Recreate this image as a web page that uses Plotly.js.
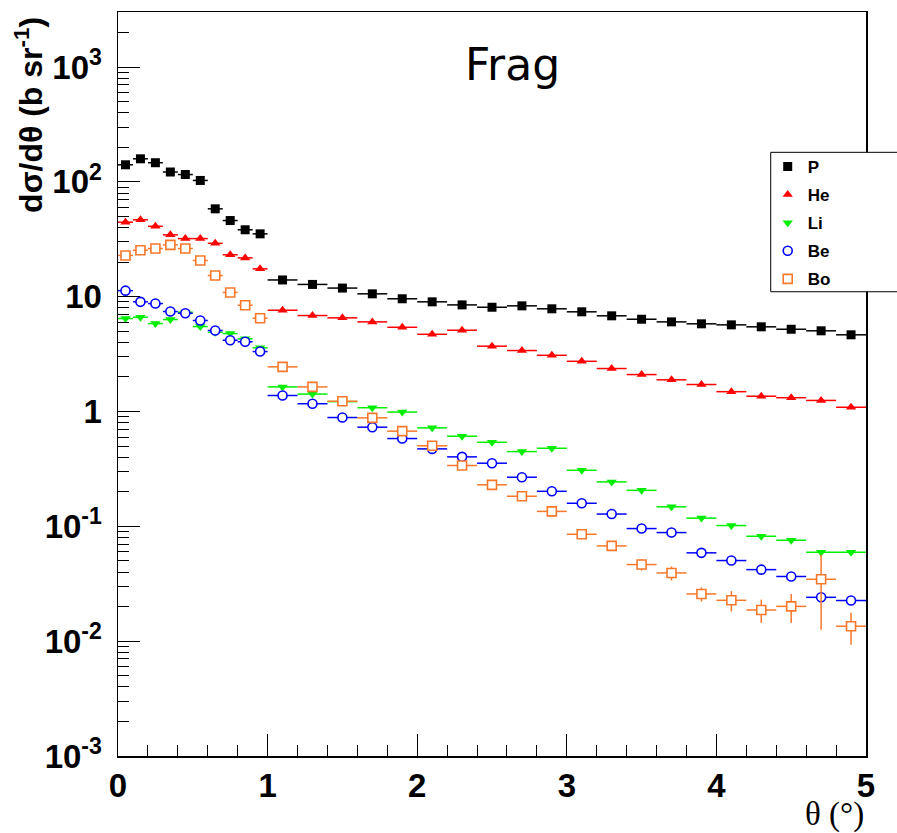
<!DOCTYPE html>
<html>
<head>
<meta charset="utf-8">
<script src="https://cdn.plot.ly/plotly-3.0.1.min.js"></script>
<style>html,body{margin:0;padding:0;background:#fff;}#chart{width:897px;height:833px;}</style>
</head>
<body>
<div id="chart"></div>
<script>
// bin centres (deg) and half widths
const theta = [0.05,0.15,0.25,0.35,0.45,0.55,0.65,0.75,0.85,0.95,
  1.1,1.3,1.5,1.7,1.9,2.1,2.3,2.5,2.7,2.9,
  3.1,3.3,3.5,3.7,3.9,4.1,4.3,4.5,4.7,4.9];
const halfBin = [0.05,0.05,0.05,0.05,0.05,0.05,0.05,0.05,0.05,0.05,
  0.1,0.1,0.1,0.1,0.1,0.1,0.1,0.1,0.1,0.1,
  0.1,0.1,0.1,0.1,0.1,0.1,0.1,0.1,0.1,0.1];

const P  = [141,159,147,122,116,103,58.3,46.1,38.3,35.3,
  14.0,12.8,11.9,10.6,9.6,9.03,8.49,8.1,8.33,7.85,
  7.39,6.82,6.37,6.04,5.81,5.69,5.47,5.21,5.05,4.66];
const He = [44.6,46.8,41.1,34.6,32.1,32.1,29.2,23.2,21.8,17.5,
  7.63,6.86,6.55,6.04,5.42,4.71,5.11,3.71,3.40,3.09,
  2.74,2.37,2.10,1.89,1.72,1.49,1.36,1.32,1.25,1.09];
const Li = [6.46,6.63,5.84,6.33,7.33,5.5,4.9,4.78,4.30,3.59,
  1.64,1.42,1.22,1.08,0.99,0.721,0.61,0.54,0.448,0.479,
  0.308,0.244,0.206,0.148,0.118,0.1017,0.082,0.0757,0.0595,0.0595];
const Be = [11.3,9.03,8.72,7.43,7.18,6.21,5.08,4.18,4.05,3.33,
  1.38,1.17,0.887,0.731,0.582,0.473,0.403,0.355,0.268,0.202,
  0.159,0.128,0.0957,0.0883,0.0588,0.0504,0.042,0.0366,0.0241,0.0226];
const Bo = [22.9,25.4,26.3,28.3,26.3,20.7,15.3,10.9,8.44,6.50,
  2.45,1.64,1.23,0.881,0.675,0.503,0.339,0.23,0.183,0.135,
  0.0853,0.0676,0.0465,0.0393,0.0258,0.0227,0.0187,0.0201,0.0346,0.0135];
const BoErr = [0.5,0.5,0.5,0.6,0.6,0.5,0.4,0.3,0.3,0.25,
  0.06,0.05,0.04,0.03,0.025,0.02,0.016,0.012,0.01,0.008,
  0.007,0.0065,0.0054,0.0055,0.0036,0.0046,0.0043,0.0057,0.022,0.0042];

const yTickVals = [1e-3,1e-2,1e-1,1,10,100,1000];
const yTickText = ['10<sup>-3</sup>','10<sup>-2</sup>','10<sup>-1</sup>','1','10','10<sup>2</sup>','10<sup>3</sup>'];

function series(name, y, color, symbol, fill, err) {
  const t = {
    x: theta, y: y, name: name, type: 'scatter', mode: 'markers',
    legendgroup: name,
    marker: {symbol: symbol, size: 9, color: fill || color,
             line: {color: color, width: fill ? 1.6 : 0}},
    error_x: {type: 'data', array: halfBin, visible: true, color: color, thickness: 1.5, width: 0},
    hoverinfo: 'x+y'
  };
  if (err) t.error_y = {type: 'data', array: err, visible: true, color: color, thickness: 1.5, width: 0};
  return t;
}

const traces = [
  series('P', P, '#000000', 'square'),
  series('He', He, '#ff0000', 'triangle-up'),
  series('Li', Li, '#00ee00', 'triangle-down'),
  series('Be', Be, '#0000ff', 'circle', '#ffffff'),
  series('Bo', Bo, '#f7782a', 'square', '#ffffff', BoErr)
];

const minorY = [];
for (let e = -3; e <= 3; e++) for (let k = 2; k <= 9; k++) minorY.push(k * Math.pow(10, e));

const tickFont = {family: 'Liberation Sans, Arial, sans-serif', size: 33, color: '#000', weight: 'bold'};

const layout = {
  width: 897, height: 833,
  margin: {l: 118, r: 31, t: 12, b: 77},
  paper_bgcolor: '#fff', plot_bgcolor: '#fff',
  showlegend: true,
  xaxis: {
    range: [0, 5], showgrid: false, zeroline: false,
    showline: true, linecolor: '#000', linewidth: 1.5, mirror: true,
    ticks: 'inside', ticklen: 22, tickwidth: 1, tickcolor: '#000',
    tickmode: 'linear', tick0: 0, dtick: 1,
    minor: {ticks: 'inside', ticklen: 11, tickwidth: 1, tickcolor: '#000', dtick: 0.2, tick0: 0},
    tickfont: tickFont
  },
  yaxis: {
    type: 'log', range: [-3, 3.48], showgrid: false, zeroline: false,
    showline: true, linecolor: '#000', linewidth: 1.5, mirror: true,
    ticks: 'inside', ticklen: 22, tickwidth: 1, tickcolor: '#000',
    tickmode: 'array', tickvals: yTickVals, ticktext: yTickText,
    minor: {ticks: 'inside', ticklen: 11, tickwidth: 1, tickcolor: '#000', tickmode: 'array', tickvals: minorY},
    tickfont: tickFont, ticklabelstandoff: 8
  },
  legend: {
    x: 0.8686, y: 0.816, xanchor: 'left', yanchor: 'top',
    bgcolor: 'rgba(0,0,0,0)', borderwidth: 0,
    font: {family: 'Liberation Sans, Arial, sans-serif', size: 17, color: '#000', weight: 'bold'},
    tracegroupgap: 3, itemwidth: 30
  },
  shapes: [{
    type: 'rect', xref: 'paper', yref: 'paper', layer: 'above',
    x0: 0.8726, x1: 1.2, y0: 0.624, y1: 0.8114,
    line: {color: '#000', width: 1}, fillcolor: 'rgba(255,255,255,1)'
  }],
  annotations: [
    {text: 'Frag', xref: 'paper', yref: 'paper', x: 0.528, y: 0.929,
     xanchor: 'center', yanchor: 'middle', showarrow: false,
     font: {family: 'DejaVu Sans, sans-serif', size: 44, color: '#000'}},
    {text: 'dσ/dθ (b sr<sup>-1</sup>)', xref: 'paper', yref: 'paper', x: -0.12, y: 0.862,
     xanchor: 'center', yanchor: 'middle', showarrow: false, textangle: -90,
     font: {family: 'Liberation Sans, Arial, sans-serif', size: 32, color: '#000', weight: 'bold'}},
    {text: 'θ (°)', xref: 'paper', yref: 'paper', x: 1.0, y: -0.078,
     xanchor: 'right', yanchor: 'middle', showarrow: false,
     font: {family: 'Liberation Serif, Times New Roman, serif', size: 33, color: '#000'}}
  ]
};

Plotly.newPlot('chart', traces, layout, {displayModeBar: false, staticPlot: true});
</script>
</body>
</html>
